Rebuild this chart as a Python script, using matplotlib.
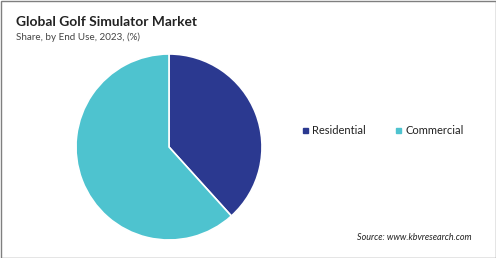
import matplotlib.pyplot as plt
from matplotlib.patches import Rectangle

segments = ["Residential", "Commercial"]
shares = [38.3, 61.7]
colors = ["#2B3990", "#4EC3CF"]

plt.rcParams['font.family'] = ['Lato', 'DejaVu Sans']

fig = plt.figure(figsize=(4.96, 2.58), dpi=100)
W, H = 496, 258

# pie axes: center ~ (169,147) px, radius ~93 px
r = 93
cx, cy = 169, 147
ax = fig.add_axes([(cx - r) / W, 1 - (cy + r) / H, 2 * r / W, 2 * r / H])
ax.pie(shares, colors=colors, startangle=90, counterclock=False,
       wedgeprops=dict(edgecolor="white", linewidth=1.2))
ax.set_aspect("equal")
ax.set_xlim(-1, 1)
ax.set_ylim(-1, 1)

fig.text(16 / W, 1 - 22 / H, "Global Golf Simulator Market", fontsize=9.9,
         fontweight="bold", color="#222222", va="center", ha="left")
fig.text(16 / W, 1 - 37 / H, "Share, by End Use, 2023, (%)", fontsize=7.1,
         color="#444444", va="center", ha="left")

# legend
leg_x = [303, 396]
for x, name, c in zip(leg_x, segments, colors):
    fig.patches.append(Rectangle((x / W, 1 - 133 / H), 5 / W, 5 / H,
                                 transform=fig.transFigure, color=c))
    fig.text((x + 9) / W, 1 - 130 / H, name, fontsize=8, color="#222222",
             va="center", ha="left")

fig.text(472 / W, 1 - 237 / H, "Source: www.kbvresearch.com", fontsize=6.5,
         style="italic", color="#222222", va="center", ha="right")

# outer border
fig.patches.append(Rectangle((0.5 / W, 0.5 / H), 1 - 1 / W, 1 - 1 / H,
                             transform=fig.transFigure, fill=False,
                             edgecolor="#7f7f7f", linewidth=1))

fig.savefig("out.png", dpi=100)
